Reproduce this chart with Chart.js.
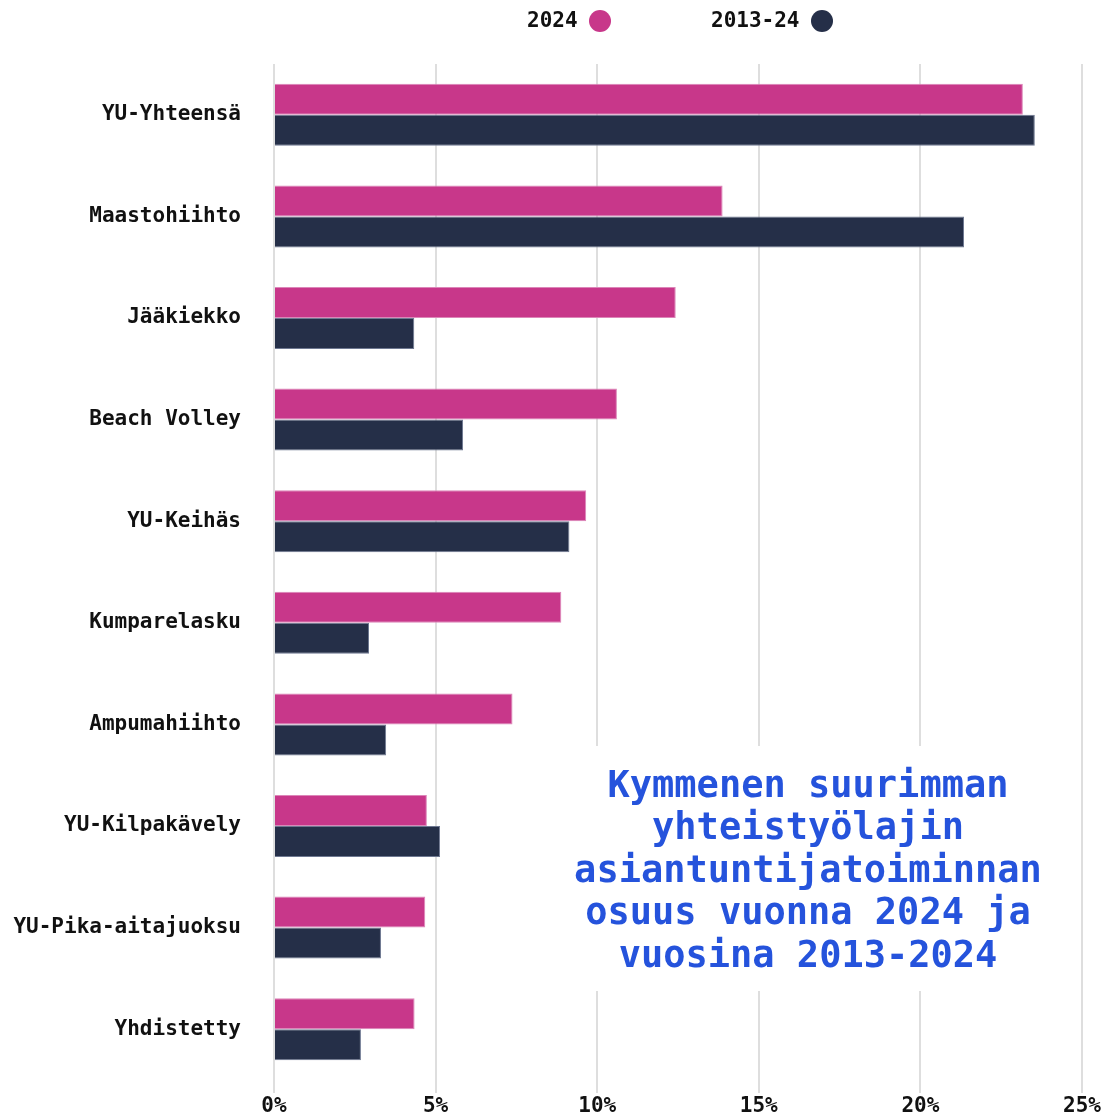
<!DOCTYPE html>
<html lang="fi">
    <head>
        <meta charset="utf-8" />
        <title>Yhteistyölajit</title>
        <script src="https://cdn.jsdelivr.net/npm/chart.js@4"></script>
        <style>
            html,
            body {
                margin: 0;
                padding: 0;
                background: #fff;
            }
            #wrap {
                width: 1115px;
                height: 1118px;
            }
        </style>
    </head>
    <body>
        <div id="wrap">
            <canvas id="chart" width="1115" height="1118"></canvas>
        </div>

        <script>
            const categories = [
                "YU-Yhteensä",
                "Maastohiihto",
                "Jääkiekko",
                "Beach Volley",
                "YU-Keihäs",
                "Kumparelasku",
                "Ampumahiihto",
                "YU-Kilpakävely",
                "YU-Pika-aitajuoksu",
                "Yhdistetty",
            ];
            const seriesNames = ["2024", "2013-24"];
            const values2024 = [23.17, 13.88, 12.43, 10.61, 9.66, 8.89, 7.38, 4.73, 4.68, 4.35];
            const values2013to24 = [23.54, 21.35, 4.34, 5.85, 9.14, 2.94, 3.47, 5.14, 3.31, 2.69];
            const xTicks = [0, 5, 10, 15, 20, 25];
            const titleLines = [
                "Kymmenen suurimman",
                "yhteistyölajin",
                "asiantuntijatoiminnan",
                "osuus vuonna 2024 ja",
                "vuosina 2013-2024",
            ];

            const PINK = "#c8378a";
            const NAVY = "#252f48";
            const MONO = "'DejaVu Sans Mono', 'Liberation Mono', monospace";

            // legend: text first, dot after it
            const legendPlugin = {
                id: "dotLegend",
                afterDraw(chart) {
                    const ctx = chart.ctx;
                    const items = [
                        { text: seriesNames[0], x: 527, dot: 600, color: PINK },
                        { text: seriesNames[1], x: 711, dot: 822, color: NAVY },
                    ];
                    ctx.save();
                    ctx.font = "bold 21px " + MONO;
                    ctx.textBaseline = "middle";
                    ctx.textAlign = "left";
                    items.forEach((it) => {
                        ctx.fillStyle = "#111";
                        ctx.fillText(it.text, it.x, 22);
                        ctx.beginPath();
                        ctx.arc(it.dot, 21, 11, 0, Math.PI * 2);
                        ctx.fillStyle = it.color;
                        ctx.fill();
                    });
                    ctx.restore();
                },
            };

            // title box sits inside the plot, over the grid
            const titleBoxPlugin = {
                id: "titleBox",
                afterDatasetsDraw(chart) {
                    const ctx = chart.ctx;
                    ctx.save();
                    ctx.fillStyle = "#fff";
                    ctx.fillRect(566, 746, 490, 245);
                    ctx.font = "bold 37px " + MONO;
                    ctx.fillStyle = "#2553dc";
                    ctx.textAlign = "center";
                    ctx.textBaseline = "middle";
                    titleLines.forEach((line, i) => {
                        ctx.fillText(line, 808, 787 + i * 42.6);
                    });
                    ctx.restore();
                },
            };

            new Chart(document.getElementById("chart"), {
                type: "bar",
                data: {
                    labels: categories,
                    datasets: [
                        {
                            label: seriesNames[0],
                            data: values2024,
                            backgroundColor: PINK,
                            borderColor: "#dc86b8",
                            borderWidth: 1,
                            categoryPercentage: 0.61,
                            barPercentage: 1,
                        },
                        {
                            label: seriesNames[1],
                            data: values2013to24,
                            backgroundColor: NAVY,
                            borderColor: "#6e7891",
                            borderWidth: 1,
                            categoryPercentage: 0.61,
                            barPercentage: 1,
                        },
                    ],
                },
                options: {
                    indexAxis: "y",
                    responsive: false,
                    animation: false,
                    devicePixelRatio: 1,
                    layout: {
                        padding: { top: 64, right: 33, bottom: 0, left: 0 },
                    },
                    plugins: {
                        legend: { display: false },
                        tooltip: { enabled: false },
                    },
                    scales: {
                        x: {
                            min: 0,
                            max: 25,
                            afterBuildTicks: (scale) => {
                                scale.ticks = xTicks.map((v) => ({ value: v }));
                            },
                            afterFit: (scale) => {
                                scale.height = 38;
                            },
                            border: { display: false },
                            grid: {
                                color: "#dedede",
                                lineWidth: 2,
                                drawTicks: true,
                                tickLength: 13,
                                tickColor: "#dedede",
                            },
                            ticks: {
                                padding: 1,
                                color: "#111",
                                font: { family: MONO, size: 21, weight: "bold" },
                                callback: (v) => v + "%",
                            },
                        },
                        y: {
                            afterFit: (scale) => {
                                scale.width = 274;
                                scale.paddingTop = 0;
                                scale.paddingBottom = 0;
                            },
                            border: { display: false },
                            // ticks not drawn (grid hidden) but tickLength keeps the label gap
                            grid: { display: false, drawTicks: true, tickLength: 33 },
                            ticks: {
                                padding: 0,
                                color: "#111",
                                font: { family: MONO, size: 21, weight: "bold" },
                            },
                        },
                    },
                },
                plugins: [legendPlugin, titleBoxPlugin],
            });
        </script>
    </body>
</html>
